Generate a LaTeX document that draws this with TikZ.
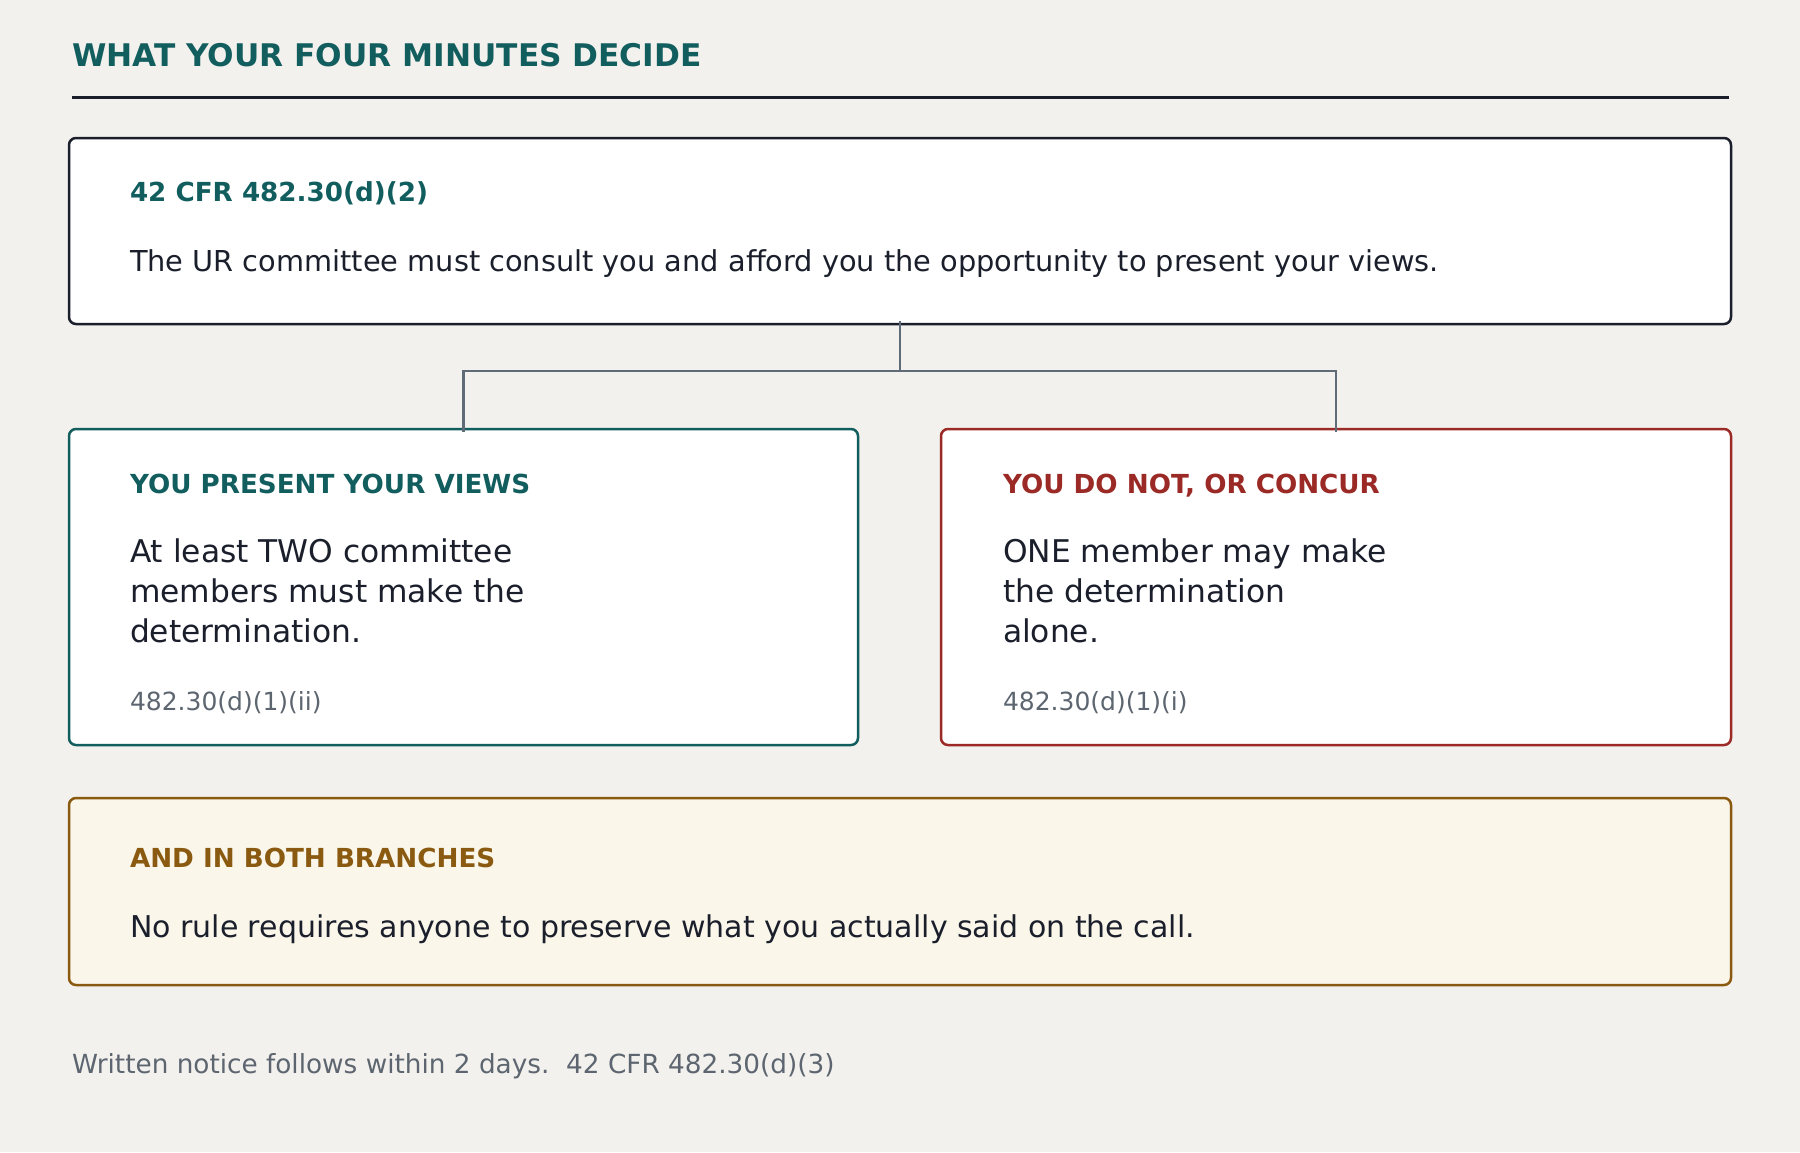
\documentclass[tikz,border=0pt]{standalone}
\usepackage{fontspec}
\setmainfont{DejaVu Sans}
\definecolor{bg}{HTML}{F3F1ED}
\definecolor{teal}{HTML}{125E5F}
\definecolor{redc}{HTML}{9B2A26}
\definecolor{brown}{HTML}{8A5A10}
\definecolor{ink}{HTML}{1A1F2B}
\definecolor{muted}{HTML}{5D6670}
\definecolor{connc}{HTML}{5F6B76}
\definecolor{cream}{HTML}{FAF6EA}
\tikzset{
  box/.style={draw, line width=2.5pt, rounded corners=7pt, fill=white, inner sep=0pt},
  txt/.style={anchor=base west, inner sep=0pt, outer sep=0pt},
  title/.style={txt, text=teal, font=\fontsize{31.2}{36}\selectfont\bfseries},
  head/.style={txt, font=\fontsize{26.2}{32}\selectfont\bfseries},
  bodytop/.style={txt, text=ink, font=\fontsize{28.8}{34}\selectfont},
  bodybig/.style={txt, text=ink, font=\fontsize{31.3}{38}\selectfont},
  bodybot/.style={txt, text=ink, font=\fontsize{30}{38}\selectfont},
  cite/.style={txt, text=muted, font=\fontsize{25}{30}\selectfont},
  conn/.style={draw=connc, line width=2.5pt},
}
\begin{document}
\begin{tikzpicture}[x=1pt,y=-1pt]
\fill[bg] (0,0) rectangle (1800,1152);
\useasboundingbox (0,0) rectangle (1800,1152);

\node[title] (ttl) at (72,66) {WHAT YOUR FOUR MINUTES DECIDE};
\coordinate (ruleL) at (72,97.5);
\coordinate (ruleR) at (1729,97.5);
\draw[ink, line width=3pt] (ruleL) -- (ruleR);

\node[box, draw=ink, minimum width=1662pt, minimum height=186pt] (top) at (900,231) {};
\node[head, text=teal] (toph) at (130,201) {42 CFR 482.30(d)(2)};
\node[bodytop] (topb) at (130,271) {The UR committee must consult you and afford you the opportunity to present your views.};

\node[box, draw=teal, minimum width=789pt, minimum height=316pt] (left) at (463.5,587) {};
\node[head, text=teal] (lh) at (130,493) {YOU PRESENT YOUR VIEWS};
\node[bodybig] (lb1) at (130,562) {At least TWO committee};
\node[bodybig] (lb2) at (130,602) {members must make the};
\node[bodybig] (lb3) at (130,642) {determination.};
\node[cite] (lc) at (130,710) {482.30(d)(1)(ii)};

\node[box, draw=redc, minimum width=790pt, minimum height=316pt] (right) at (1336,587) {};
\node[head, text=redc] (rh) at (1003,493) {YOU DO NOT, OR CONCUR};
\node[bodybig] (rb1) at (1003,562) {ONE member may make};
\node[bodybig] (rb2) at (1003,602) {the determination};
\node[bodybig] (rb3) at (1003,642) {alone.};
\node[cite] (rc) at (1003,710) {482.30(d)(1)(i)};

\node[box, draw=brown, fill=cream, minimum width=1662pt, minimum height=187pt] (both) at (900,891.5) {};
\node[head, text=brown] (bh) at (130,867) {AND IN BOTH BRANCHES};
\node[bodybot] (bb) at (130,937) {No rule requires anyone to preserve what you actually said on the call.};

\node[cite, font=\fontsize{26.3}{30}\selectfont] (foot) at (72,1073) {Written notice follows within 2 days.\ \ 42 CFR 482.30(d)(3)};

\coordinate (j) at (900,371);
\draw[conn] ([yshift=4pt]top.south) -- (j);
\draw[conn] (j) -| ([yshift=-4pt]left.north);
\draw[conn] (j) -| ([yshift=-4pt]right.north);
\end{tikzpicture}
\end{document}
